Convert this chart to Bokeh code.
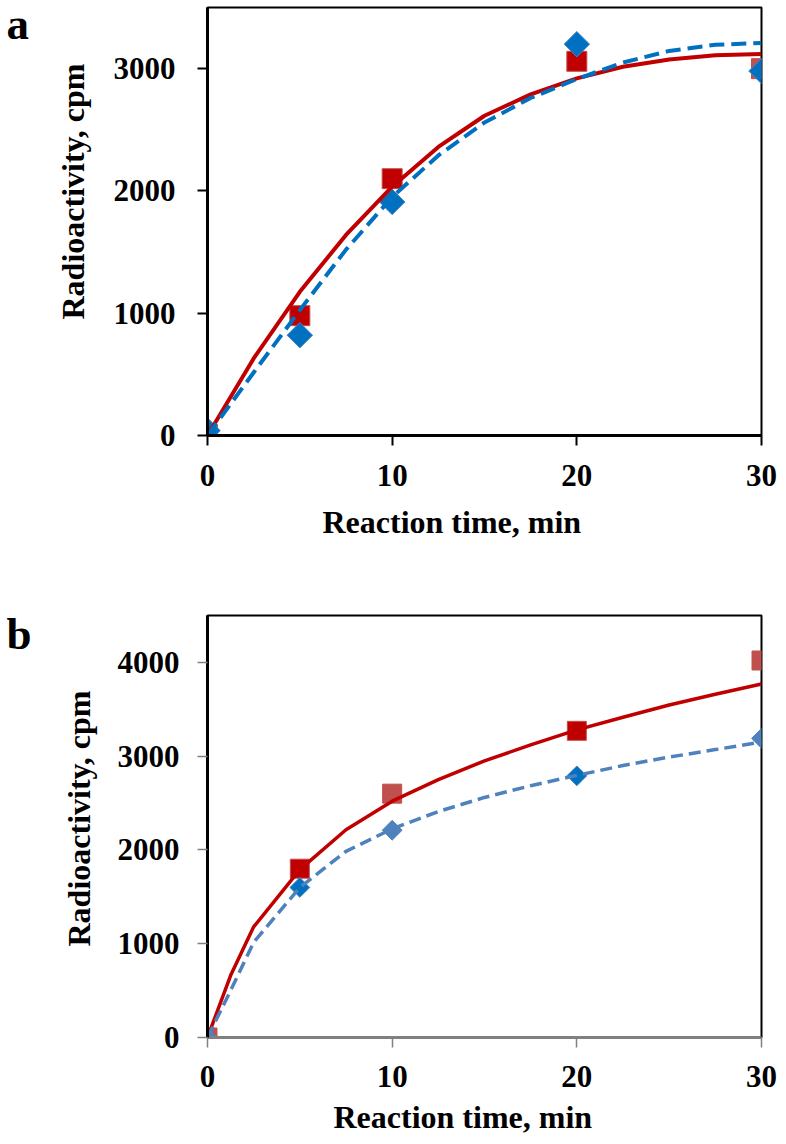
import numpy as np
from bokeh.plotting import figure
from bokeh.layouts import column, row
from bokeh.models import Title, FixedTicker, ColumnDataSource, Range1d
from bokeh.core.properties import value
from bokeh.embed import file_html
from bokeh.resources import INLINE

# ---------------- data ----------------
time_min = [0, 5, 10, 20, 30]

# panel a
a_red = [0, 980, 2100, 3060, 3000]
a_blue = [40, 820, 1910, 3200, 2980]
a_fit_t = [0, 2.5, 5, 7.5, 10, 12.5, 15, 17.5, 20, 22.5, 25, 27.5, 30]
a_red_fit = [0, 630, 1175, 1640, 2035, 2360, 2615, 2790, 2920, 3015, 3075, 3110, 3120]
a_blue_fit = [0, 515, 1025, 1520, 1950, 2290, 2560, 2760, 2915, 3050, 3145, 3195, 3210]

# panel b
b_red = [0, 1800, 2600, 3270, 4020]
b_blue = [0, 1600, 2210, 2790, 3190]
b_fit_t = [0, 1.25, 2.5, 5, 7.5, 10, 12.5, 15, 17.5, 20, 22.5, 25, 27.5, 30]
b_red_fit = [0, 660, 1180, 1790, 2215, 2520, 2750, 2950, 3120, 3280, 3415, 3545, 3660, 3770]
b_blue_fit = [0, 500, 1015, 1600, 1985, 2225, 2410, 2560, 2685, 2795, 2900, 2990, 3070, 3150]

x_ticks = [0, 10, 20, 30]
a_y_ticks = [0, 1000, 2000, 3000]
b_y_ticks = [0, 1000, 2000, 3000, 4000]

panel_letters = ["a", "b"]
x_label = "Reaction  time, min"
y_label = "Radioactivity, cpm"

# ---------------- styles ----------------
FONT = "Liberation Serif"
DARK_RED = "#C00000"
LIGHT_RED = "#C0504D"
DARK_BLUE = "#0070C0"
LIGHT_BLUE = "#4F81BD"

a_red_colors = [LIGHT_RED, DARK_RED, DARK_RED, DARK_RED, LIGHT_RED]
a_blue_colors = [DARK_BLUE] * 5
b_red_colors = [LIGHT_RED, DARK_RED, LIGHT_RED, DARK_RED, LIGHT_RED]
b_blue_colors = [LIGHT_BLUE, DARK_BLUE, LIGHT_BLUE, DARK_BLUE, LIGHT_BLUE]

LETTER_W = 32
H_A = 578
H_B = 566
H_ALL = H_A + H_B


def letters_fig():
    # a narrow strip holding the panel letters; ranges are pixel-like, y grows downward
    f = figure(width=LETTER_W, height=H_ALL, x_range=Range1d(0, LETTER_W),
               y_range=Range1d(H_ALL, 0),
               output_backend="svg", toolbar_location=None, title=None,
               x_axis_location=None, y_axis_location=None, min_border=0,
               background_fill_color="white", border_fill_color="white",
               align="start")
    f.grid.visible = False
    f.outline_line_color = None
    f.text(x=[6, 6], y=[23, 633], text=panel_letters, text_font=value(FONT),
           text_font_size="45px", text_font_style="bold", text_color="black",
           text_baseline="alphabetic", text_align="left")
    return f


def make_panel(y_max, y_ticks, red, blue, red_colors, blue_colors,
               fit_t, red_fit, blue_fit, height, borders, cfg):
    p = figure(width=786 - LETTER_W, height=height, x_range=(0, 30), y_range=(0, y_max),
               output_backend="svg", toolbar_location=None, title=None,
               min_border_left=borders[0], min_border_right=borders[1],
               min_border_top=borders[2], min_border_bottom=borders[3],
               background_fill_color="white", border_fill_color="white",
               align="start")
    p.grid.visible = False
    p.outline_line_color = "black"
    p.outline_line_width = 2
    p.outline_line_alpha = 1

    p.xaxis.ticker = FixedTicker(ticks=x_ticks)
    p.yaxis.ticker = FixedTicker(ticks=y_ticks)
    for ax in (p.xaxis[0], p.yaxis[0]):
        ax.minor_tick_line_color = None
        ax.major_tick_in = 0
        ax.major_label_text_font = FONT
        ax.major_label_text_font_style = "bold"
        ax.major_label_text_font_size = "31px"
        ax.major_label_text_color = "black"
    p.yaxis.axis_line_color = "black"
    p.yaxis.axis_line_width = 3
    p.yaxis.major_tick_out = 10
    p.yaxis.major_tick_line_width = cfg["ytick_w"]
    p.yaxis.major_tick_line_color = cfg["ytick_c"]
    p.yaxis.major_label_standoff = cfg["ystand"]
    p.xaxis.axis_line_color = cfg["xaxis_c"]
    p.xaxis.axis_line_width = cfg["xaxis_w"]
    p.xaxis.major_tick_out = 10
    p.xaxis.major_tick_line_width = cfg["xtick_w"]
    p.xaxis.major_tick_line_color = cfg["xaxis_c"]
    p.xaxis.major_label_standoff = cfg["xstand"]

    src_r = ColumnDataSource(dict(x=time_min, y=red, c=red_colors))
    src_b = ColumnDataSource(dict(x=time_min, y=blue, c=blue_colors))
    p.scatter("x", "y", source=src_r, marker="square", size=cfg["sq"],
              fill_color="c", line_color=LIGHT_RED, line_width=1)
    p.scatter("x", "y", source=src_b, marker="square", angle=np.pi / 4,
              size=cfg["dm"], fill_color="c", line_color=LIGHT_BLUE, line_width=1)
    p.line(fit_t, red_fit, line_color=DARK_RED, line_width=cfg["lw"])
    p.line(fit_t, blue_fit, line_color=cfg["blue_line"], line_width=cfg["lw"],
           line_dash=cfg["dash"])

    yt = Title(text=y_label, align="left", offset=cfg["yoff"],
               text_font=FONT, text_font_size="32px", text_font_style="bold",
               text_color="black", standoff=cfg["ylstand"])
    p.add_layout(yt, "left")
    xt = Title(text=x_label, align="left", offset=cfg["xoff"],
               text_font=FONT, text_font_size="32px", text_font_style="bold",
               text_color="black", standoff=cfg["xlstand"])
    p.add_layout(xt, "below")
    return p


cfg_a = dict(ytick_w=2, ytick_c="black", ystand=22, xaxis_c="black", xaxis_w=3,
             xtick_w=2, xstand=19, sq=20, dm=18, lw=4, blue_line=DARK_BLUE,
             dash="15 7", yoff=116, ylstand=40, xoff=115, xlstand=26)
cfg_b = dict(ytick_w=1.5, ytick_c="#808080", ystand=18, xaxis_c="#808080", xaxis_w=2.5,
             xtick_w=1.5, xstand=18, sq=19, dm=14, lw=3.5, blue_line=LIGHT_BLUE,
             dash="12 6", yoff=91, ylstand=36, xoff=126, xlstand=14)

pa = make_panel(3500, a_y_ticks, a_red, a_blue, a_red_colors, a_blue_colors,
                a_fit_t, a_red_fit, a_blue_fit, H_A,
                (207 - LETTER_W, 24, 7, H_A - 435), cfg_a)
pb = make_panel(4500, b_y_ticks, b_red, b_blue, b_red_colors, b_blue_colors,
                b_fit_t, b_red_fit, b_blue_fit, H_B,
                (203 - LETTER_W, 25, 615 - H_A, H_A + H_B - 1037), cfg_b)

layout = row(letters_fig(), column(pa, pb, spacing=0), spacing=0)
open("out.html", "w").write(file_html(layout, INLINE))
